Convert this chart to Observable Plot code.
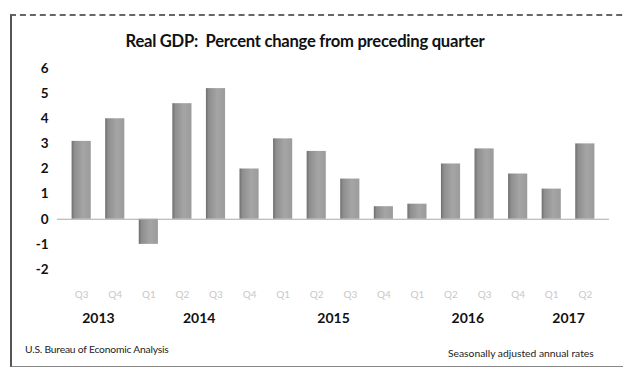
<!DOCTYPE html>
<html>
<head>
<meta charset="utf-8">
<script src="https://cdn.jsdelivr.net/npm/d3@7"></script>
<script src="https://cdn.jsdelivr.net/npm/@observablehq/plot@0.6"></script>
<style>
  html, body { margin: 0; padding: 0; background: #fff; }
  #wrap { position: relative; width: 623px; height: 368px; overflow: hidden; background: #fff; font-family: Lato, "Open Sans", sans-serif; }
  #frame { position: absolute; left: 10px; top: 14px; width: 640px; height: 350px; border-left: 2px solid #555; border-top: 2px dashed #666; border-bottom: 1px solid #888; }
  #title { position: absolute; top: 31px; left: 0; width: 610px; text-align: center; font-weight: bold; font-size: 16.6px; color: #111; letter-spacing: -0.25px; }
  #chart { position: absolute; left: 0; top: 0; }
  .foot { position: absolute; font-size: 10.3px; color: #222; letter-spacing: -0.2px; }
  #srcL { left: 25px; top: 343px; }
  #srcR { left: 448px; top: 347px; letter-spacing: 0px; }
</style>
</head>
<body>
<div id="wrap">
  <div id="frame"></div>
  <div id="title">Real GDP:&nbsp; Percent change from preceding quarter</div>
  <div id="chart"></div>
  <div class="foot" id="srcL">U.S. Bureau of Economic Analysis</div>
  <div class="foot" id="srcR">Seasonally adjusted annual rates</div>
</div>
<script>
const quarters = ["Q3","Q4","Q1","Q2","Q3","Q4","Q1","Q2","Q3","Q4","Q1","Q2","Q3","Q4","Q1","Q2"];
const quarterYears = ["2013","2013","2014","2014","2014","2014","2015","2015","2015","2015","2016","2016","2016","2016","2017","2017"];
const growth = [3.1, 4.0, -1.0, 4.6, 5.2, 2.0, 3.2, 2.7, 1.6, 0.5, 0.6, 2.2, 2.8, 1.8, 1.2, 3.0];
const yearLabels = ["2013","2014","2015","2016","2017"];
const yTicks = [-2, -1, 0, 1, 2, 3, 4, 5, 6];

const rows = growth.map((v, i) => ({i, v, q: quarters[i], year: quarterYears[i]}));
const years = yearLabels.map(y => {
  const idx = rows.filter(r => r.year === y).map(r => r.i);
  return {year: y, pos: d3.mean(idx)};
});
const half = 0.285;

const plot = Plot.plot({
  width: 623,
  height: 368,
  marginLeft: 57,
  marginRight: 14,
  marginTop: 68,
  marginBottom: 99,
  style: {background: "transparent", fontFamily: "Lato, 'Open Sans', sans-serif", overflow: "visible"},
  x: {type: "linear", domain: [-0.72, rows.length - 1 + 0.72], axis: null},
  y: {domain: [-2, 6], axis: null},
  marks: [
    Plot.rect(rows, {x1: d => d.i - half, x2: d => d.i + half, y1: 0, y2: "v", fill: "url(#barGrad)"}),
    Plot.ruleY([0], {stroke: "#aaa", strokeWidth: 1}),
    Plot.axisY({ticks: yTicks, tickSize: 0, tickPadding: 9, tickFormat: d => String(d), fontSize: 13.5, fontWeight: "bold", fill: "#111", label: null}),
    Plot.axisX({ticks: rows.map(r => r.i), tickFormat: i => quarters[i], tickSize: 0, tickPadding: 21, fontSize: 10, fill: "#c8c8c8", label: null}),
    Plot.text(years, {x: "pos", text: "year", frameAnchor: "bottom", dy: 53, fontSize: 14, fontWeight: "bold", fill: "#111"})
  ]
});

const svg = d3.select(plot);
const defs = svg.insert("defs", ":first-child");
const g = defs.append("linearGradient").attr("id", "barGrad").attr("x1", "0").attr("x2", "1").attr("y1", "0").attr("y2", "0");
g.append("stop").attr("offset", "0").attr("stop-color", "#6e6e6e");
g.append("stop").attr("offset", "0.15").attr("stop-color", "#8e8e8e");
g.append("stop").attr("offset", "0.6").attr("stop-color", "#a5a5a5");
g.append("stop").attr("offset", "1").attr("stop-color", "#9b9b9b");

document.getElementById("chart").appendChild(plot);
</script>
</body>
</html>
